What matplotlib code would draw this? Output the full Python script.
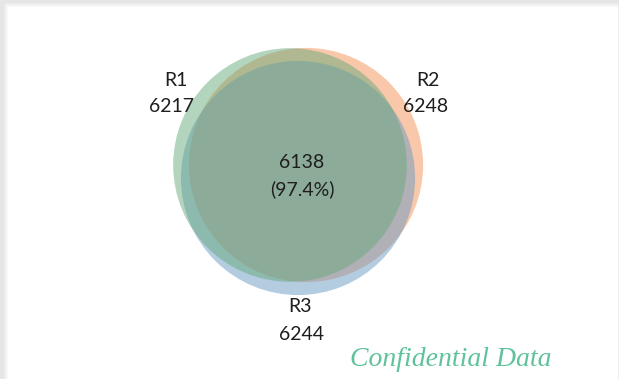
import numpy as np
import matplotlib.pyplot as plt
from matplotlib.patches import Circle, Rectangle

# set sizes and shared core
set_names = ['R1', 'R2', 'R3']
set_sizes = [6217, 6248, 6244]
core_count = 6138
core_share = '97.4%'

set_colors = ['#69aa7d', '#f59155', '#699bc3']
# circle centres in pixel space (layout only)
centres = [(290, 165), (306, 165), (298, 178)]
# name / count text rows for each set
name_pos = [(176, 80), (428, 80), (300, 307)]
count_pos = [(171, 107), (426, 107), (301, 334)]
draw_order = [1, 2, 0]  # orange, blue, then green on top

fig = plt.figure(figsize=(6.19, 3.79), dpi=100, facecolor='#e6e6e6')
ax = fig.add_axes([0, 0, 1, 1])
ax.set_xlim(0, 619)
ax.set_ylim(379, 0)
ax.set_aspect('equal')
ax.axis('off')

# white card with a soft edge
for i in range(6):
    shade = 0.90 + 0.02 * i
    ax.add_patch(Rectangle((3 + i, 2 + i), 616 - 2 * i, 400, color=str(shade), zorder=0))
ax.add_patch(Rectangle((8, 7), 609, 400, color='white', zorder=1))

scale = 117 / np.sqrt(np.mean(set_sizes))
for k in draw_order:
    cx, cy = centres[k]
    ax.add_patch(Circle((cx, cy), scale * np.sqrt(set_sizes[k]), color=set_colors[k],
                        alpha=0.5, lw=0, zorder=2))

txt = dict(fontsize=14, family='Lato', color='#1e1e1e', ha='center', va='center', zorder=5)
for name, n, (x1, y1), (x2, y2) in zip(set_names, set_sizes, name_pos, count_pos):
    ax.text(x1, y1, name, **txt)
    ax.text(x2, y2, str(n), **txt)
ax.text(302, 162, str(core_count), **txt)
ax.text(302, 189, f'({core_share})', **txt)

ax.text(451, 360, 'Confidential Data', fontsize=20, family='Liberation Serif',
        style='italic', color='#5ec39a', ha='center', va='center', zorder=5)

fig.savefig('out.png', dpi=100, facecolor=fig.get_facecolor())
